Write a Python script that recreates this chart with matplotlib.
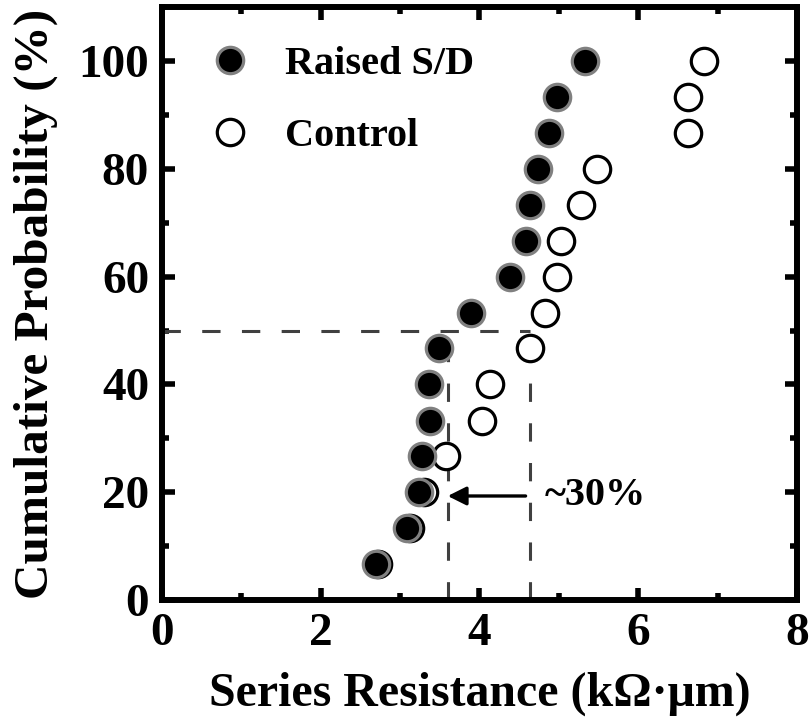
import matplotlib
matplotlib.use("Agg")
import matplotlib.pyplot as plt
import numpy as np

# cumulative probability levels (15 devices each)
prob = [6.67, 13.3, 20.0, 26.7, 33.3, 40.0, 46.7, 53.3,
        60.0, 66.7, 73.3, 80.0, 86.7, 93.3, 100.0]

# series resistance, kOhm*um
rsd_raised = [2.70, 3.09, 3.24, 3.28, 3.38, 3.37, 3.49, 3.89,
              4.38, 4.59, 4.63, 4.73, 4.88, 4.98, 5.33]
rsd_control = [2.72, 3.13, 3.30, 3.58, 4.03, 4.13, 4.63, 4.83,
               4.98, 5.03, 5.28, 5.48, 6.62, 6.62, 6.82]

# median markers
median_raised = 3.60
median_control = 4.63
median_level = 50
arrow_level = 19.3
reduction_label = "~30%"

plt.rcParams['font.family'] = ['Liberation Serif', 'DejaVu Serif']
plt.rcParams['font.weight'] = 'bold'

fig = plt.figure(figsize=(8.12, 7.19), dpi=100)
ax = fig.add_axes([0.199, 0.1655, 0.783, 0.8245])

ax.plot(rsd_control, prob, 'o', ms=19, mfc='white', mec='black', mew=2.3,
        ls='none', label='Control', zorder=3)
ax.plot(rsd_raised, prob, 'o', ms=19, mfc='black', mec='#808080', mew=2.3,
        ls='none', label='Raised S/D', zorder=4)

dash = dict(color='#404040', lw=2.2, ls=(0, (6, 7)), zorder=2)
ax.plot([0, median_control], [median_level, median_level], **dash)
ax.plot([median_raised, median_raised], [0, median_level], **dash)
ax.plot([median_control, median_control], [0, median_level], **dash)

ax.annotate('', xy=(median_raised, arrow_level),
            xytext=(median_control - 0.05, arrow_level),
            arrowprops=dict(arrowstyle='-|>', color='black', lw=2.4,
                            mutation_scale=28, shrinkA=0, shrinkB=0))
ax.text(median_control + 0.19, arrow_level, reduction_label, fontsize=29,
        fontweight='bold', va='center', ha='left')

ax.set_xlim(0, 8)
ax.set_ylim(0, 110)
ax.set_xticks([0, 2, 4, 6, 8])
ax.set_xticks([1, 3, 5, 7], minor=True)
ax.set_yticks([0, 20, 40, 60, 80, 100])
ax.set_yticks([10, 30, 50, 70, 90], minor=True)

for s in ax.spines.values():
    s.set_linewidth(4.3)
ax.tick_params(which='both', direction='in', top=True, right=True,
               labelsize=34, width=4.0, pad=9)
ax.tick_params(which='major', length=9)
ax.tick_params(which='minor', length=5)

ax.set_xlabel('Series Resistance (k\u03a9\u00b7\u03bcm)', fontsize=34.5,
              fontweight='bold')
ax.xaxis.set_label_coords(0.5, -0.121)
ax.set_ylabel('Cumulative Probability (%)', fontsize=35.5,
              fontweight='bold')
ax.yaxis.set_label_coords(-0.163, 0.5)

handles, labels = ax.get_legend_handles_labels()
ax.legend(handles[::-1], labels[::-1], loc='upper left', frameon=False,
          prop={'weight': 'bold', 'size': 29},
          bbox_to_anchor=(0.051, 0.962), handletextpad=0.85, labelspacing=0.87,
          handlelength=1.0, borderaxespad=0)

fig.savefig('out.png', dpi=100)
